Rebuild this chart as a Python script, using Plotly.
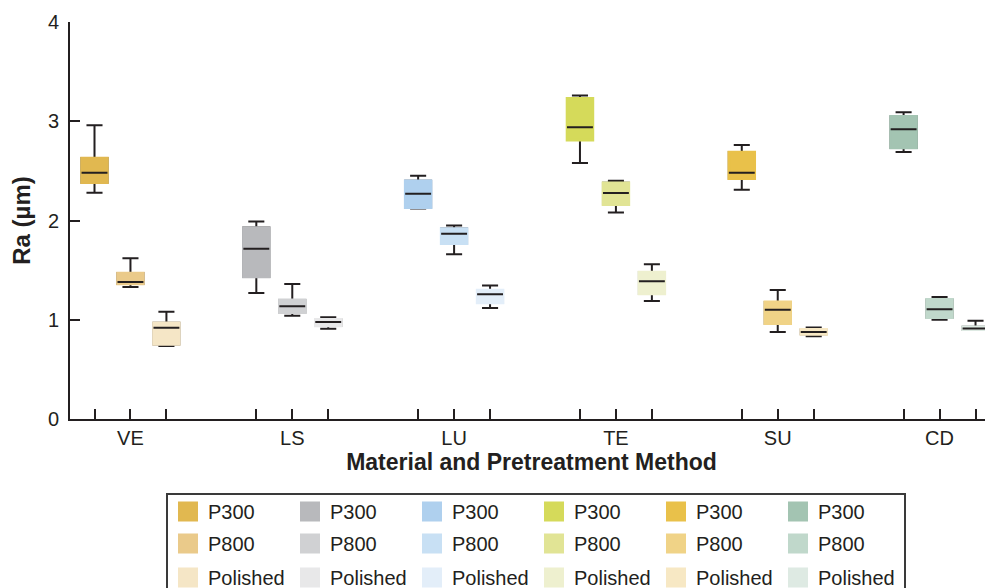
import plotly.graph_objects as go

materials = ["VE", "LS", "LU", "TE", "SU", "CD"]
treatments = ["P300", "P800", "Polished"]

# Box statistics (Ra, µm)
p300_low = [2.28, 1.27, 2.12, 2.58, 2.31, 2.69]
p300_q1 = [2.38, 1.43, 2.13, 2.81, 2.42, 2.73]
p300_med = [2.48, 1.715, 2.27, 2.94, 2.48, 2.92]
p300_q3 = [2.63, 1.93, 2.40, 3.23, 2.69, 3.05]
p300_high = [2.96, 1.99, 2.45, 3.26, 2.76, 3.09]

p800_low = [1.33, 1.04, 1.66, 2.08, 0.876, 1.00]
p800_q1 = [1.36, 1.07, 1.765, 2.16, 0.96, 1.02]
p800_med = [1.38, 1.135, 1.866, 2.276, 1.10, 1.105]
p800_q3 = [1.47, 1.20, 1.92, 2.38, 1.18, 1.205]
p800_high = [1.62, 1.36, 1.95, 2.40, 1.30, 1.23]

pol_low = [0.735, 0.91, 1.118, 1.19, 0.833, 0.90]
pol_q1 = [0.75, 0.937, 1.17, 1.26, 0.853, 0.90]
pol_med = [0.92, 0.977, 1.256, 1.387, 0.876, 0.913]
pol_q3 = [0.97, 1.004, 1.30, 1.48, 0.903, 0.93]
pol_high = [1.08, 1.024, 1.346, 1.56, 0.923, 0.99]

colors_p300 = ["#E1B850", "#B8B9BC", "#AFD0EE", "#D5DA5A", "#E9C14A", "#A3C4B2"]
colors_p800 = ["#EACA8A", "#D0D1D3", "#C8E0F4", "#E1E495", "#F0D387", "#C0D8CB"]
colors_pol = ["#F5E6C6", "#E8E8E9", "#E3EEF9", "#EEF0CF", "#F7E8C4", "#DEEAE3"]

stats = [
    (p300_low, p300_q1, p300_med, p300_q3, p300_high, colors_p300),
    (p800_low, p800_q1, p800_med, p800_q3, p800_high, colors_p800),
    (pol_low, pol_q1, pol_med, pol_q3, pol_high, colors_pol),
]

DARK = "#231F20"
FONT = "Liberation Sans, Arial, Helvetica, sans-serif"
GROUP_STEP = 4.5
BOX_W = 0.72

fig = go.Figure()

tickvals, ticktext = [], []
for g, mat in enumerate(materials):
    for j in range(3):
        lo, q1, med, q3, hi, cols = stats[j]
        pos = g * GROUP_STEP + j
        tickvals.append(pos)
        ticktext.append(mat if j == 1 else "")
        fill = cols[g]
        common = dict(x=[pos], width=BOX_W, orientation="v", boxpoints=False,
                      showlegend=False, hoverinfo="skip")
        # dark whiskers / caps
        fig.add_trace(go.Box(q1=[q1[g]], median=[med[g]], q3=[q3[g]],
                             lowerfence=[lo[g]], upperfence=[hi[g]],
                             whiskerwidth=0.62, line=dict(color=DARK, width=2),
                             fillcolor=fill, **common))
        # coloured box without outline
        fig.add_trace(go.Box(q1=[q1[g]], median=[med[g]], q3=[q3[g]],
                             lowerfence=[q1[g]], upperfence=[q3[g]],
                             whiskerwidth=0, line=dict(color=fill, width=2.6),
                             fillcolor=fill, **common))
        # dark median line
        fig.add_trace(go.Box(q1=[med[g]], median=[med[g]], q3=[med[g]],
                             lowerfence=[med[g]], upperfence=[med[g]],
                             whiskerwidth=0, line=dict(color=DARK, width=2),
                             fillcolor="rgba(0,0,0,0)", **common))

# legend entries (one legend row per treatment)
legend_names = ["legend", "legend2", "legend3"]
for j, tr in enumerate(treatments):
    cols = stats[j][5]
    for g, mat in enumerate(materials):
        fig.add_trace(go.Scatter(
            x=[None], y=[None], mode="markers", name=tr,
            marker=dict(symbol="square", size=16, color=cols[g],
                        line=dict(color=cols[g], width=4)),
            legend=legend_names[j], showlegend=True, hoverinfo="skip"))

OFF = 8  # page offset of the figure inside the browser page
W, H = 993, 588
ML, MT = 62, 14
PLOT_RIGHT = 985      # figure px
PLOT_BOTTOM = 411     # figure px
MR, MB = W - PLOT_RIGHT, H - PLOT_BOTTOM
PW, PH = PLOT_RIGHT - ML, PLOT_BOTTOM - MT
px_per_unit = 35.96
x0 = -((94.5 - OFF) - ML) / px_per_unit
x1 = x0 + PW / px_per_unit


def px_to_paper_x(px):
    return (px - OFF - ML) / PW


def px_to_paper_y(py):
    return (PLOT_BOTTOM - (py - OFF)) / PH


row_centers = [511.5, 543.5, 577.5]
leg_common = dict(orientation="h", xanchor="left", yanchor="middle",
                  x=px_to_paper_x(168), entrywidth=77, entrywidthmode="pixels",
                  font=dict(family=FONT, size=20, color=DARK),
                  bgcolor="rgba(0,0,0,0)", borderwidth=0,
                  itemclick=False, itemdoubleclick=False)

fig.update_layout(
    width=W, height=H,
    margin=dict(l=ML, r=MR, t=MT, b=MB, autoexpand=False),
    paper_bgcolor="white", plot_bgcolor="white",
    font=dict(family=FONT, size=20, color=DARK),
    boxmode="overlay",
    legend=dict(y=px_to_paper_y(row_centers[0]), **leg_common),
    legend2=dict(y=px_to_paper_y(row_centers[1]), **leg_common),
    legend3=dict(y=px_to_paper_y(row_centers[2]), **leg_common),
    xaxis=dict(range=[x0, x1], tickmode="array", tickvals=tickvals, ticktext=ticktext,
               ticks="inside", ticklen=10, tickwidth=2, tickcolor=DARK,
               showline=True, linecolor=DARK, linewidth=2, showgrid=False, zeroline=False,
               tickfont=dict(family=FONT, size=20, color=DARK),
               title=dict(text="<b>Material and Pretreatment Method</b>",
                          font=dict(family=FONT, size=23, color=DARK), standoff=5)),
    yaxis=dict(range=[0, 4], tickmode="array", tickvals=[0, 1, 2, 3, 4],
               ticks="inside", ticklen=10, tickwidth=2, tickcolor=DARK,
               showline=True, linecolor=DARK, linewidth=2, showgrid=False, zeroline=False,
               tickfont=dict(family=FONT, size=20, color=DARK), ticklabelstandoff=5,
               title=dict(text="<b>Ra (µm)</b>",
                          font=dict(family=FONT, size=24, color=DARK), standoff=12)),
    shapes=[dict(type="rect", xref="paper", yref="paper",
                 x0=px_to_paper_x(167), x1=px_to_paper_x(905),
                 y0=px_to_paper_y(494), y1=px_to_paper_y(640),
                 line=dict(color="#3a3a3a", width=2), fillcolor="rgba(0,0,0,0)",
                 layer="below")],
)

fig.write_html("out.html")
